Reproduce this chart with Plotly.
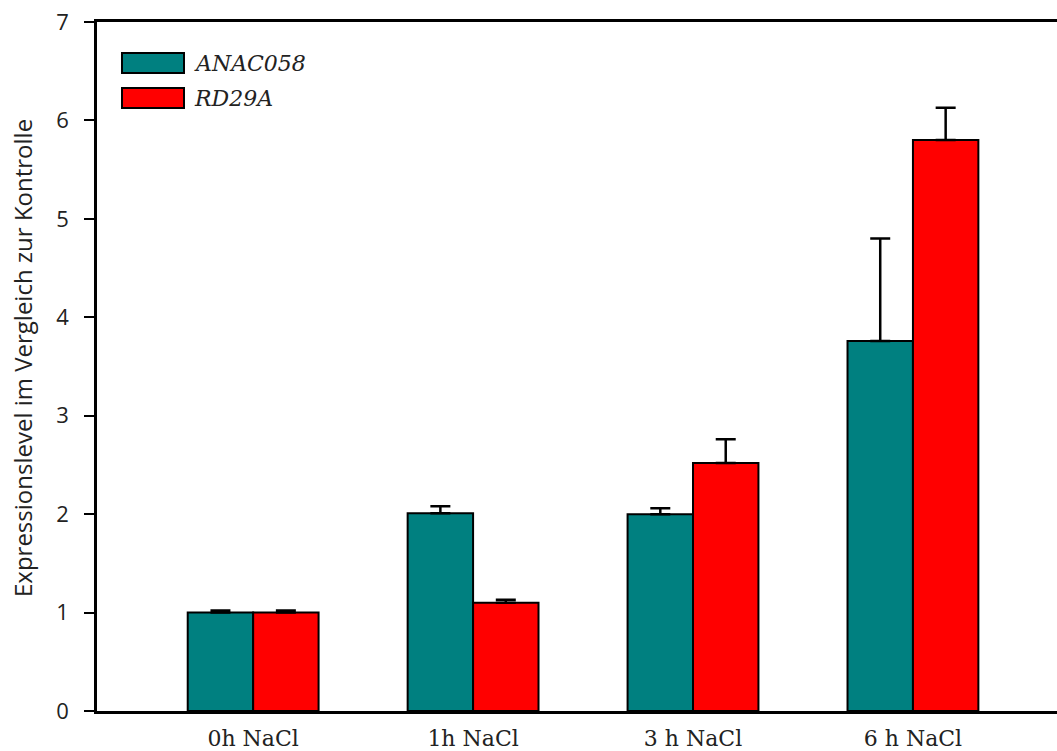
import plotly.graph_objects as go

categories = ["0h NaCl", "1h NaCl", "3 h NaCl", "6 h NaCl"]
anac058 = [1.0, 2.01, 2.0, 3.76]
anac058_err = [0.02, 0.07, 0.06, 1.04]
rd29a = [1.0, 1.10, 2.52, 5.80]
rd29a_err = [0.02, 0.03, 0.24, 0.33]
series_names = ["ANAC058", "RD29A"]
yticks = [0, 1, 2, 3, 4, 5, 6, 7]
ytitle = "Expressionslevel im Vergleich zur Kontrolle"

teal = "#008080"
red = "#FF0000"

ML, MT, MB = 97, 22, 40
W, H = 1057, 751
PW, PH = W - ML, H - MT - MB

fig = go.Figure()
for name, vals, errs, col in [(series_names[0], anac058, anac058_err, teal),
                               (series_names[1], rd29a, rd29a_err, red)]:
    fig.add_trace(go.Bar(
        x=categories, y=vals, name=name,
        marker=dict(color=col, line=dict(color="black", width=2)),
        error_y=dict(type="data", array=errs, symmetric=False, arrayminus=[0]*len(errs),
                     color="black", thickness=2.5, width=10),
        showlegend=False,
    ))

fig.update_layout(
    width=W, height=H,
    margin=dict(l=ML, r=0, t=MT, b=MB, pad=0, autoexpand=False),
    paper_bgcolor="white", plot_bgcolor="white",
    barmode="group", bargap=0.405, bargroupgap=0,
    xaxis=dict(
        type="category", range=[-0.71, 3.655],
        showline=True, linecolor="black", linewidth=2.5, mirror=True,
        ticks="", showgrid=False, zeroline=False, automargin=False,
        ticklabelstandoff=6,
        tickfont=dict(family="DejaVu Serif, serif", size=22, color="#222"),
    ),
    yaxis=dict(
        range=[0, 7], tickvals=yticks,
        showline=True, linecolor="black", linewidth=2.5,
        ticks="outside", ticklen=10, tickwidth=2, tickcolor="black",
        ticklabelstandoff=11, automargin=False,
        showgrid=False, zeroline=False,
        tickfont=dict(family="Open Sans, Noto Sans, sans-serif", size=22, color="#222"),
    ),
)

def px_x(x):
    return (x - ML) / PW
def px_y(y):
    return (H - MB - y) / PH

# y-axis title
fig.add_annotation(xref="paper", yref="paper", x=px_x(22), y=px_y(358),
                   text=ytitle, textangle=-90, showarrow=False,
                   xanchor="center", yanchor="middle",
                   font=dict(family="Open Sans, Noto Sans, sans-serif", size=24, color="#222"))

# legend drawn manually (large swatches)
leg = [(series_names[0], teal, 53, 73), (series_names[1], red, 88, 108)]
for name, col, y0, y1 in leg:
    fig.add_shape(type="rect", xref="paper", yref="paper",
                  x0=px_x(122), x1=px_x(184),
                  y0=px_y(y1), y1=px_y(y0),
                  fillcolor=col, line=dict(color="black", width=2))
    fig.add_annotation(xref="paper", yref="paper",
                       x=px_x(192), y=px_y((y0 + y1) / 2),
                       text="<i>" + name + "</i>", showarrow=False,
                       xanchor="left", yanchor="middle",
                       font=dict(family="DejaVu Serif, serif", size=22, color="#222"))

fig.write_html("out.html",
               config={"displayModeBar": False},
               post_script="document.body.style.margin='0';document.body.style.overflow='hidden';")
